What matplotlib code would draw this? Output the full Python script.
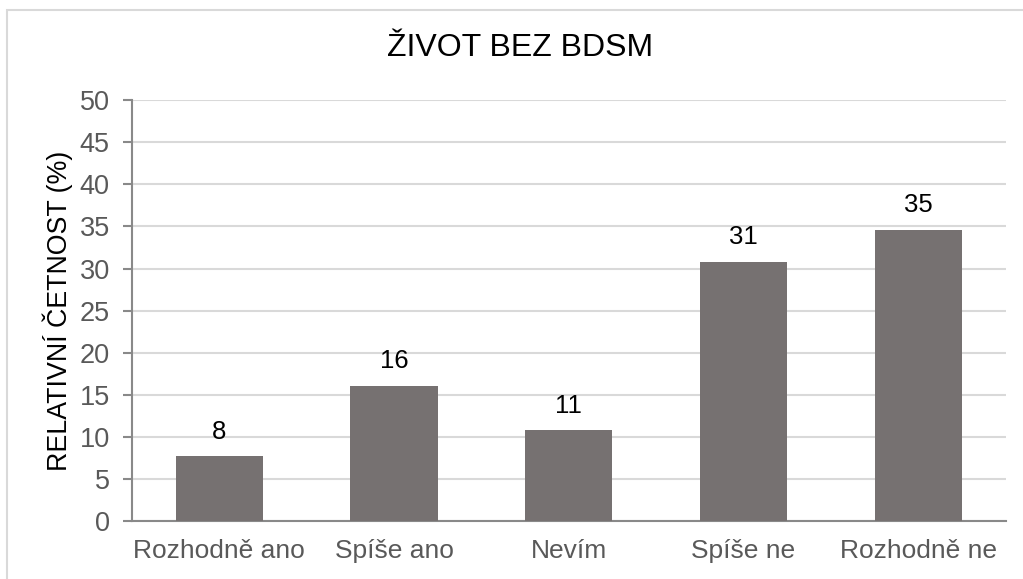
import matplotlib.pyplot as plt
from matplotlib.patches import Rectangle

categories = ["Rozhodně ano", "Spíše ano", "Nevím", "Spíše ne", "Rozhodně ne"]
values = [7.7, 16.1, 10.8, 30.8, 34.6]
labels = ["8", "16", "11", "31", "35"]
yticks = [0, 5, 10, 15, 20, 25, 30, 35, 40, 45, 50]

plt.rcParams['font.family'] = ['Liberation Sans', 'DejaVu Sans']

fig = plt.figure(figsize=(10.23, 5.79), dpi=100)
ax = fig.add_axes([0.129, 0.1, 0.854, 0.727])

x = range(len(categories))
ax.bar(x, values, width=0.5, color="#767171", zorder=3)
for i, v in enumerate(values):
    ax.text(i, v + 1.5, labels[i], ha="center", va="bottom", fontsize=18.5, color="black")

ax.set_xlim(-0.5, len(categories) - 0.5)
ax.set_ylim(0, 50)
ax.set_yticks(yticks)
ax.set_xticks(list(x))
ax.set_xticklabels(categories, fontsize=19, color="#595959")
ax.tick_params(axis="y", labelsize=19.5, labelcolor="#595959", color="#898989",
               length=6.5, width=1.5, pad=9.5)
ax.tick_params(axis="x", length=0, pad=13)
ax.grid(axis="y", color="#d9d9d9", linewidth=1.5, zorder=0)
for s in ["top", "right"]:
    ax.spines[s].set_visible(False)
ax.spines["left"].set_color("#898989")
ax.spines["left"].set_linewidth(1.5)
ax.spines["bottom"].set_color("#898989")
ax.spines["bottom"].set_linewidth(1.5)

ax.set_ylabel("RELATIVNÍ ČETNOST (%)", fontsize=19.3, color="black", labelpad=5)
fig.text(0.508, 0.917, "ŽIVOT BEZ BDSM", ha="center", va="center", fontsize=23, color="black")

fig.patches.append(Rectangle((7 / 1023, -0.1), 1.2, 1.1 - 10 / 579, transform=fig.transFigure,
                             fill=False, edgecolor="#d9d9d9", linewidth=1.5))

fig.savefig("out.png", dpi=100)
